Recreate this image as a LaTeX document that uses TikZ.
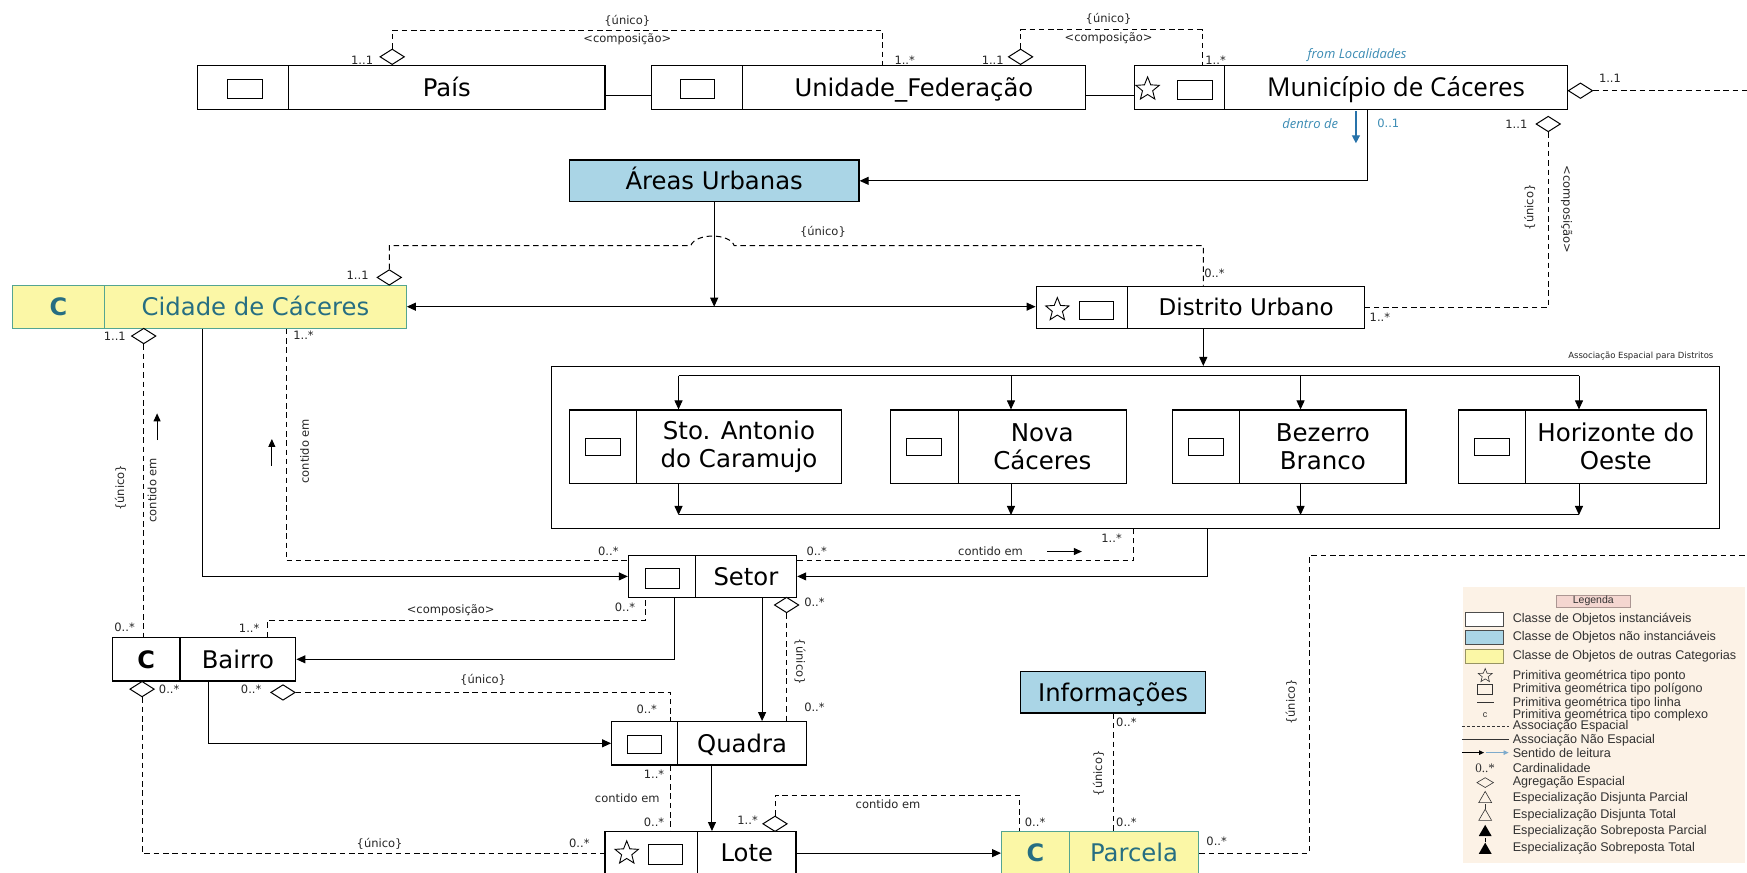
\documentclass[tikz,border=0pt]{standalone}
\usepackage{fontspec}
\setmainfont{DejaVu Sans}
\newfontfamily\osf{Open Sans}
\newfontfamily\lgf{Liberation Sans}
\newfontfamily\serf{Liberation Serif}
\usetikzlibrary{fit,calc,arrows.meta,shapes.geometric}
\def\pxu{1.1142pt}
\definecolor{ublue}{RGB}{170,213,230}
\definecolor{uyel}{RGB}{251,247,166}
\definecolor{uteal}{RGB}{84,165,145}
\definecolor{utxt}{RGB}{38,110,130}
\definecolor{ulink}{RGB}{60,140,180}
\definecolor{ularr}{RGB}{40,115,170}
\definecolor{legbg}{RGB}{252,242,230}
\definecolor{legtt}{RGB}{244,214,208}
\definecolor{legtx}{RGB}{50,50,50}
\tikzset{
  box/.style={draw=black, line width=1.2pt, inner sep=0pt},
  ybox/.style={draw=uteal, fill=uyel, line width=1.2pt, inner sep=0pt},
  nmt/.style={font=\fontsize{24.3}{28}\selectfont, anchor=base, yshift=-8.8pt, inner sep=0pt},
  cbold/.style={font=\bfseries\fontsize{24}{28}\selectfont, anchor=base, yshift=-8.7pt, inner sep=0pt},
  dtxt/.style={font=\fontsize{24.5}{28}\selectfont, align=center, inner sep=0pt},
  icn/.style={draw, line width=1pt, minimum width=31*\pxu, minimum height=16.5*\pxu, inner sep=0pt},
  strs/.style={star, star points=5, star point ratio=2.3, draw, line width=0.9pt, minimum size=22*\pxu, inner sep=0pt},
  dia/.style={diamond, draw, fill=white, line width=1pt, minimum width=22*\pxu, minimum height=14*\pxu, inner sep=0pt},
  con/.style={line width=1pt},
  arr/.style={con, -{Triangle[length=9pt,width=8pt]}},
  dsh/.style={con, dash pattern=on 5.5pt off 3.8pt},
  lbl/.style={font=\fontsize{11.5}{13}\selectfont, inner sep=1pt, text=black!85},
  leg/.style={font=\lgf\fontsize{12.6}{14}\selectfont, text=legtx, anchor=west, inner sep=0pt},
}
\begin{document}
\begin{tikzpicture}[x=1.1142pt, y=-1.1142pt]
\useasboundingbox (0,0) rectangle (1568,783);
\clip (0,0) rectangle (1568,783);
\fill[white] (0,0) rectangle (1568,783);

% ---------- helper coordinates ----------
\foreach \xx in {182,187,240,257,579,602,605,639,684,792,915,999,1017,1079,1080,1084,1175,1227}
  {\coordinate (x\xx) at (\xx,0);}
\coordinate (yc1) at (0,86);

% ---------- row 1 ----------
\node[box, fit={(177,59) (259,98)}] (paisI) {};
\node[box, fit={(259,59) (543,98)}] (pais) {};
\node[nmt] (paisT) at (pais.center) {País};
\node[icn] (paisR) at (220,80) {};
\node[box, fit={(585,59) (666.5,98)}] (ufI) {};
\node[box, fit={(666.5,59) (974,98)}] (uf) {};
\node[nmt] (ufT) at (uf.center) {Unidade\_Federação};
\node[icn] (ufR) at (626,80) {};
\node[box, fit={(1018,59) (1099,98)}] (munI) {};
\node[box, fit={(1099,59) (1407,98)}] (mun) {};
\node[font=\osf\fontsize{26}{30}\selectfont, anchor=base, yshift=-9.3pt, inner sep=0pt] (munT) at (mun.center) {Município de Cáceres};
\node[strs] (munS) at (1030,80) {};
\node[icn] (munR) at (1072.5,80.7) {};
\draw[con] (pais.east |- yc1) -- (ufI.west |- yc1);
\draw[con] (uf.east |- yc1) -- (munI.west |- yc1);

\node[dia] (d1) at (352,51) {};
\draw[dsh] (d1.north) -- ++(0,-16.5) -| (uf.north -| x792);
\node[lbl] (l1) at (563,19) {\{único\}};
\node[lbl] (l2) at (563,35) {<composição>};
\node[lbl] (l3) at (325,54) {1..1};
\node[lbl] (l4) at (812,54) {1..*};

\node[dia] (d2) at (916,51) {};
\draw[dsh] (d2.north) -- ++(0,-17) -| (munI.north -| x1079);
\node[lbl] (l5) at (995,17) {\{único\}};
\node[lbl] (l6) at (995,34) {<composição>};
\node[lbl] (l7) at (891,54) {1..1};
\node[lbl] (l8) at (1091,54) {1..*};

\node[font=\osf\itshape\fontsize{13}{15}\selectfont, text=ulink, inner sep=0pt] (fromloc) at (1218,49.5) {from Localidades};

\node[dia] (d3) at (1418.5,81.4) {};
\coordinate (re1) at (1568,81.4);
\draw[dsh] (d3.east) -- (re1);
\node[lbl] (l9) at (1445,70) {1..1};

% ---------- Areas Urbanas ----------
\node[box, fill=ublue, fit={(511,143.6) (771,181)}] (areas) {};
\node[nmt] (areasT) at (areas.center) {Áreas Urbanas};
\draw[arr] (mun.south -| x1227) |- (areas.east);
\node[font=\osf\itshape\fontsize{13}{15}\selectfont, text=ulink, inner sep=0pt] (dentro) at (1176,110.7) {dentro de};
\draw[ularr, line width=1.4pt, -{Triangle[length=8pt,width=8pt]}] (1217,100) -- (1217,128.6);
\node[lbl, text=ulink] (l10) at (1246,110.7) {0..1};

\node[dia] (d4) at (1389.6,111.3) {};
\node[lbl] (l11) at (1361,111.3) {1..1};
\node[lbl, rotate=90] (l12) at (1373,186) {\{único\}};
\node[lbl, rotate=-90] (l13) at (1406,188) {<composição>};

% ---------- Cidade / Distrito ----------
\node[ybox, fit={(11,256) (94,294.5)}] (cidI) {};
\node[ybox, fit={(94,256) (364.6,294.5)}] (cid) {};
\node[cbold, text=utxt] (cidC) at (cidI.center) {C};
\node[nmt, text=utxt] (cidT) at (cid.center) {Cidade de Cáceres};
\node[box, fit={(930,257) (1012,295)}] (distI) {};
\node[box, fit={(1012,257) (1225,295)}] (dist) {};
\node[nmt, font=\fontsize{23}{26}\selectfont, yshift=0.5pt] (distT) at (dist.center) {Distrito Urbano};
\node[strs] (distS) at (949,278) {};
\node[icn, minimum width=30*\pxu] (distR) at (984,278.5) {};

\draw[dsh] (d4.south) |- (dist.east);
\node[lbl] (l14) at (1238.5,285) {1..*};

\draw[arr] (areas.south) -- (areas.south |- cid.east);
\draw[con, {Triangle[length=9pt,width=8pt]}-{Triangle[length=9pt,width=8pt]}] (cid.east) -- (cid.east -| distI.west);

\node[dia] (d5) at (349.4,249) {};
\draw[dsh] (d5.north) |- (620,220.5) .. controls (624,209) and (655,209) .. (659,220.5) -| (dist.north -| x1080);
\node[lbl] (l15) at (738.6,208) {\{único\}};
\node[lbl] (l16) at (321,247) {1..1};
\node[lbl] (l17) at (1090,245) {0..*};

% ---------- Associação espacial para distritos ----------
\node[box, fit={(495,329) (1543,474.5)}] (assoc) {};
\node[font=\fontsize{8.5}{10}\selectfont, anchor=east, inner sep=0pt, text=black!85] (assocl) at (1538,320) {Associação Espacial para Distritos};
\draw[arr] (dist.south -| x1080) -- (assoc.north -| x1080);

\node[box, fit={(511,368) (571,433.8)}] (b1I) {};
\node[box, fit={(571,368) (755.5,433.8)}] (b1) {};
\node[box, fit={(799,368) (860,433.8)}] (b2I) {};
\node[box, fit={(860,368) (1011,433.8)}] (b2) {};
\node[box, fit={(1052.6,368) (1112.6,433.8)}] (b3I) {};
\node[box, fit={(1112.6,368) (1262,433.8)}] (b3) {};
\node[box, fit={(1309,368) (1369,433.8)}] (b4I) {};
\node[box, fit={(1369,368) (1531.3,433.8)}] (b4) {};
\node[dtxt] (b1T) at (b1.center) {Sto. Antonio\\do Caramujo};
\node[dtxt] (b2T) at (b2.center) {Nova\\Cáceres};
\node[dtxt] (b3T) at (b3.center) {Bezerro\\Branco};
\node[dtxt] (b4T) at (b4.center) {Horizonte do\\Oeste};
\node[icn, minimum height=15*\pxu] (b1R) at (b1I.center) {};
\node[icn, minimum height=15*\pxu] (b2R) at (b2I.center) {};
\node[icn, minimum height=15*\pxu] (b3R) at (b3I.center) {};
\node[icn, minimum height=15*\pxu] (b4R) at (b4I.center) {};

\coordinate (t1) at (609,337.2); \coordinate (t2) at (907.4,337.2);
\coordinate (t3) at (1167.3,337.2); \coordinate (t4) at (1417.2,337.2);
\coordinate (u1) at (609,462.2); \coordinate (u2) at (907.4,462.2);
\coordinate (u3) at (1167.3,462.2); \coordinate (u4) at (1417.2,462.2);
\draw[con] (t1) -- (t4);
\draw[con] (u1) -- (u4);
\draw[arr] (t1) -- (b1.north -| t1);
\draw[arr] (t2) -- (b2.north -| t2);
\draw[arr] (t3) -- (b3.north -| t3);
\draw[arr] (t4) -- (b4.north -| t4);
\draw[arr] (b1.south -| u1) -- (u1);
\draw[arr] (b2.south -| u2) -- (u2);
\draw[arr] (b3.south -| u3) -- (u3);
\draw[arr] (b4.south -| u4) -- (u4);

% ---------- Setor ----------
\node[box, fit={(564,498.7) (624,536)}] (setI) {};
\node[box, fit={(624,498.7) (715,536)}] (set) {};
\node[nmt] (setT) at (set.center) {Setor};
\node[icn, minimum height=18*\pxu] (setR) at (594.5,519) {};
\draw[arr] (assoc.south -| x1084) |- (set.east);
\draw[arr] (cid.south -| x182) |- (setI.west);
\coordinate (setLd) at ($(setI.north west)+(0,5.3)$);
\coordinate (setRd) at ($(set.north east)+(0,5.3)$);
\draw[dsh] (cid.south -| x257) |- (setLd);
\draw[dsh] (setRd) -| (assoc.south -| x1017);
\node[lbl] (l18) at (272.4,300.7) {1..*};
\node[lbl, rotate=90] (l19) at (273.3,405) {contido em};
\draw[con, -{Triangle[length=8pt,width=7pt]}] (244,418) -- (244,394);
\node[lbl] (l20) at (546,495) {0..*};
\node[lbl] (l21) at (733,495) {0..*};
\node[lbl] (l22) at (889,495) {contido em};
\draw[con, -{Triangle[length=8pt,width=7pt]}] (940,495) -- (971,495);
\node[lbl] (l23) at (997.7,483) {1..*};

% ---------- Bairro ----------
\node[dia] (d6) at (129,301.6) {};
\node[lbl] (l24) at (103,301.6) {1..1};
\node[box, fit={(101,572.3) (161.5,611.2)}] (bairI) {};
\node[box, fit={(161.5,572.3) (265.5,611.2)}] (bair) {};
\node[cbold] (bairC) at (bairI.center) {C};
\node[nmt] (bairT) at (bair.center) {Bairro};
\draw[dsh] (d6.south) -- (d6.south |- bairI.north);
\node[lbl, rotate=90] (l25) at (108.2,438) {\{único\}};
\node[lbl, rotate=90] (l26) at (136.6,440) {contido em};
\draw[con, -{Triangle[length=8pt,width=7pt]}] (141,395) -- (141,371);
\node[lbl] (l27) at (111.8,563) {0..*};

\draw[dsh] (bair.north -| x240) -- ++(0,-15) -| (setI.south -| x579);
\node[lbl] (l28) at (223.6,564) {1..*};
\node[lbl] (l29) at (404.5,548) {<composição>};
\node[lbl] (l30) at (561,545) {0..*};
\draw[arr] (setI.south -| x605) |- (bair.east);

% ---------- Quadra ----------
\node[box, fit={(549,647.7) (608,686.6)}] (quaI) {};
\node[box, fit={(608,647.7) (724,686.6)}] (qua) {};
\node[nmt] (quaT) at (qua.center) {Quadra};
\node[icn] (quaR) at (578.5,668) {};
\draw[arr] (set.south -| x684) -- (qua.north -| x684);
\node[dia] (d7) at (706,543) {};
\draw[dsh] (d7.south) -- (d7.south |- qua.north);
\node[lbl] (l31) at (731,541) {0..*};
\node[lbl, rotate=-90] (l32) at (718,594) {\{único\}};
\node[lbl] (l33) at (731,635) {0..*};

\node[dia] (d9) at (254,621.5) {};
\draw[dsh] (d9.east) -| (quaI.north -| x602);
\node[lbl] (l34) at (225.4,619) {0..*};
\node[lbl] (l35) at (433.6,610) {\{único\}};
\node[lbl] (l36) at (580.5,637) {0..*};
\draw[arr] (bair.south -| x187) |- (quaI.west);

% ---------- Lote ----------
\node[box, fit={(543,746.4) (626,785)}] (loteI) {};
\node[box, fit={(626,746.4) (714.5,785)}] (lote) {};
\node[nmt] (loteT) at (lote.center) {Lote};
\node[strs] (loteS) at (562.5,765.7) {};
\node[icn, minimum height=18*\pxu] (loteR) at (597.5,767) {};
\draw[arr] (qua.south -| x639) -- (lote.north -| x639);
\draw[dsh] (quaI.south -| x602) -- (loteI.north -| x602);
\node[lbl] (l37) at (587,694.6) {1..*};
\node[lbl] (l38) at (563,716) {contido em};
\node[lbl] (l39) at (587,738) {0..*};

\node[dia] (d8) at (127.5,618.5) {};
\node[lbl] (l40) at (151.8,619) {0..*};
\draw[dsh] (d8.south) |- (loteI.west);
\node[lbl] (l41) at (340.7,757) {\{único\}};
\node[lbl] (l42) at (520,757) {0..*};

% ---------- Parcela / Informações ----------
\node[ybox, fit={(899,746.4) (959.6,785)}] (parI) {};
\node[ybox, fit={(959.6,746.4) (1076,785)}] (par) {};
\node[cbold, text=utxt] (parC) at (parI.center) {C};
\node[nmt, text=utxt] (parT) at (par.center) {Parcela};
\draw[arr] (lote.east) -- (lote.east -| parI.west);
\node[dia] (d10) at (695.6,739.4) {};
\draw[dsh] (d10.north) -- ++(0,-18.4) -| (parI.north -| x915);
\node[lbl] (l43) at (671,736) {1..*};
\node[lbl] (l44) at (797,721.6) {contido em};
\node[lbl] (l45) at (929,738) {0..*};

\node[box, fill=ublue, fit={(916,603) (1082,640)}] (info) {};
\node[nmt] (infoT) at (info.center) {Informações};
\draw[dsh] (info.south -| x999) -- (par.north -| x999);
\node[lbl] (l46) at (1011,648) {0..*};
\node[lbl, rotate=90] (l47) at (986,694) {\{único\}};
\node[lbl] (l48) at (1011,738) {0..*};

\coordinate (re2) at (1568,499);
\draw[dsh] (par.east) -| (re2 -| x1175) -- (re2);
\node[lbl] (l49) at (1092,755) {0..*};
\node[lbl, rotate=90] (l50) at (1159,630) {\{único\}};

% ---------- Legenda ----------
\node[fill=legbg, inner sep=0pt, fit={(1313,526.5) (1566,774.7)}] (legbox) {};
\node[fill=legtt, draw=legtt!70!black, line width=0.3pt, inner sep=0pt, fit={(1397,534) (1463,544.5)}] (legT) {};
\node[font=\lgf\fontsize{10.5}{12}\selectfont, text=legtx, inner sep=0pt] (legTT) at (legT.center) {Legenda};
\node[draw=black!70, line width=0.6pt, fill=white, minimum width=34*\pxu, minimum height=12*\pxu, inner sep=0pt] (sw1) at (1332,555.8) {};
\node[draw=black!70, line width=0.6pt, fill=ublue, minimum width=34*\pxu, minimum height=12*\pxu, inner sep=0pt] (sw2) at (1332,572) {};
\node[draw=uyel!60!black, line width=0.4pt, fill=uyel, minimum width=34*\pxu, minimum height=12*\pxu, inner sep=0pt] (sw3) at (1332,588.8) {};
\node[star, star points=5, star point ratio=2.3, draw=black!80, line width=0.6pt, minimum size=13*\pxu, inner sep=0pt] (sy1) at (1333,606.5) {};
\node[draw=black!80, line width=0.6pt, minimum width=13.5*\pxu, minimum height=9*\pxu, inner sep=0pt] (sy2) at (1333,619) {};
\draw[black!80, line width=0.7pt] (1326,630.7) -- (1341,630.7);
\node[font=\lgf\fontsize{9}{10}\selectfont, text=legtx, inner sep=0pt] (sy4) at (1333,641.7) {c};
\draw[black!80, line width=0.7pt, dash pattern=on 3pt off 2pt] (1312,652.2) -- (1354,652.2);
\draw[black!80, line width=0.7pt] (1312,664) -- (1354,664);
\draw[black, line width=0.7pt, -{Triangle[length=5pt,width=4.5pt]}] (1312,675.5) -- (1332,675.5);
\draw[ularr!60, line width=0.7pt, -{Triangle[length=5pt,width=4.5pt]}] (1334,675.5) -- (1354,675.5);
\node[font=\serf\fontsize{13}{14}\selectfont, text=legtx, inner sep=0pt] (sy7) at (1333,689.6) {0..*};
\node[diamond, draw=black!80, line width=0.6pt, minimum width=15*\pxu, minimum height=9*\pxu, inner sep=0pt] (sy8) at (1333,702.4) {};
\node[isosceles triangle, isosceles triangle apex angle=60, shape border rotate=90, draw=black!80, line width=0.6pt, minimum height=10*\pxu, inner sep=0pt] (sy9) at (1333,717) {};
\node[isosceles triangle, isosceles triangle apex angle=60, shape border rotate=90, draw=black!80, line width=0.6pt, minimum height=10*\pxu, inner sep=0pt] (sy10) at (1333,733) {};
\draw[black!80, line width=0.7pt] (sy10.apex) -- ++(0,-4);
\node[isosceles triangle, isosceles triangle apex angle=60, shape border rotate=90, fill=black, minimum height=10*\pxu, inner sep=0pt] (sy11) at (1333,747) {};
\node[isosceles triangle, isosceles triangle apex angle=60, shape border rotate=90, fill=black, minimum height=10*\pxu, inner sep=0pt] (sy12) at (1333,763) {};
\draw[black, line width=0.9pt] (sy12.apex) -- ++(0,-4);
\node[leg] (lg1) at (1357.6,555.8) {Classe de Objetos instanciáveis};
\node[leg] (lg2) at (1357.6,572) {Classe de Objetos não instanciáveis};
\node[leg] (lg3) at (1357.6,588.8) {Classe de Objetos de outras Categorias};
\node[leg] (lg4) at (1357.6,607.3) {Primitiva geométrica tipo ponto};
\node[leg] (lg5) at (1357.6,618.7) {Primitiva geométrica tipo polígono};
\node[leg] (lg6) at (1357.6,630.7) {Primitiva geométrica tipo linha};
\node[leg] (lg7) at (1357.6,641.7) {Primitiva geométrica tipo complexo};
\node[leg] (lg8) at (1357.6,652.2) {Associação Espacial};
\node[leg] (lg9) at (1357.6,664) {Associação Não Espacial};
\node[leg] (lg10) at (1357.6,675.5) {Sentido de leitura};
\node[leg] (lg11) at (1357.6,689.6) {Cardinalidade};
\node[leg] (lg12) at (1357.6,702.4) {Agregação Espacial};
\node[leg] (lg13) at (1357.6,716.5) {Especialização Disjunta Parcial};
\node[leg] (lg14) at (1357.6,731.5) {Especialização Disjunta Total};
\node[leg] (lg15) at (1357.6,746.4) {Especialização Sobreposta Parcial};
\node[leg] (lg16) at (1357.6,761.4) {Especialização Sobreposta Total};
\end{tikzpicture}
\end{document}
